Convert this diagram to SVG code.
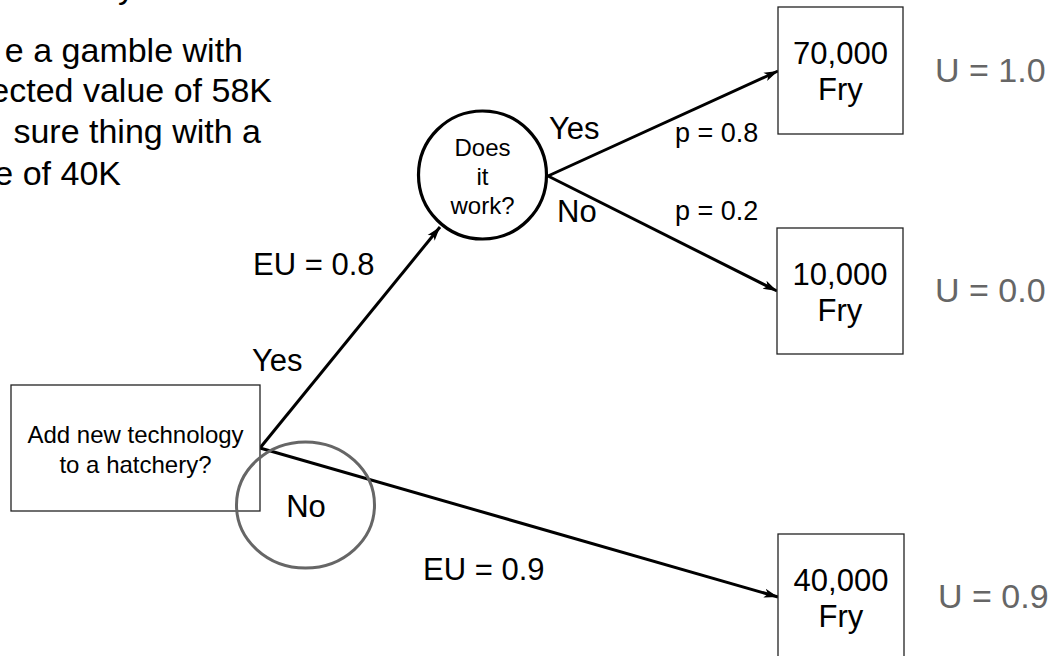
<svg xmlns="http://www.w3.org/2000/svg" width="1061" height="656" viewBox="0 0 1061 656">
  <defs>
    <marker id="arr" markerUnits="userSpaceOnUse" markerWidth="18" markerHeight="12" refX="14" refY="0" viewBox="0 -6 18 12" orient="auto">
      <path d="M0,-4.5 L14,0 L0,4.5 L3.5,0 Z" fill="#000"/>
    </marker>
    <style>
      text { font-family: "Liberation Sans", Arial, sans-serif; fill: #000; }
      .box { fill: #fff; stroke: #222; stroke-width: 1.3; }
      .conn { stroke: #000; stroke-width: 3; fill: none; }
      .big { font-size: 31px; }
      .mid { font-size: 24px; }
      .util { font-size: 34px; fill: #666; }
      .lbl { font-size: 31px; }
      .prob { font-size: 27px; }
      .note { font-size: 34px; }
    </style>
  </defs>
  <rect width="1061" height="656" fill="#fff"/>

  <g id="note">
    <text class="note" x="118" y="-2">y</text>
    <text class="note" x="243" y="62" text-anchor="end">e a gamble with</text>
    <text class="note" x="272" y="102" text-anchor="end">ected value of 58K</text>
    <text class="note" x="261" y="143" text-anchor="end">sure thing with a</text>
    <text class="note" x="121" y="185" text-anchor="end">e of 40K</text>
  </g>

  <g id="connectors">
    <line class="conn" x1="260" y1="448" x2="440" y2="227" marker-end="url(#arr)"/>
    <line class="conn" x1="260" y1="448" x2="778" y2="597" marker-end="url(#arr)"/>
    <line class="conn" x1="548" y1="176" x2="778" y2="71" marker-end="url(#arr)"/>
    <line class="conn" x1="548" y1="176" x2="777" y2="291" marker-end="url(#arr)"/>
  </g>

  <g id="root">
    <rect class="box" x="11" y="385" width="249" height="126"/>
    <text class="mid" x="135.5" y="443" text-anchor="middle">Add new technology</text>
    <text class="mid" x="135.5" y="473" text-anchor="middle">to a hatchery?</text>
  </g>

  <g id="no-choice">
    <ellipse cx="305.5" cy="505" rx="69" ry="63" fill="none" stroke="#666" stroke-width="3"/>
    <text class="lbl" x="306" y="517" text-anchor="middle">No</text>
  </g>

  <g id="chance">
    <circle cx="482.5" cy="175" r="64" fill="#fff" stroke="#000" stroke-width="3.2"/>
    <text class="mid" x="482.5" y="156" text-anchor="middle">Does</text>
    <text class="mid" x="482.5" y="185" text-anchor="middle">it</text>
    <text class="mid" x="482.5" y="214" text-anchor="middle">work?</text>
  </g>

  <g id="out-70000">
    <rect class="box" x="778" y="7" width="125" height="127"/>
    <text class="big" x="840.5" y="64" text-anchor="middle">70,000</text>
    <text class="big" x="840.5" y="100" text-anchor="middle">Fry</text>
    <text class="util" x="935" y="82">U = 1.0</text>
  </g>

  <g id="out-10000">
    <rect class="box" x="777" y="228" width="126" height="126"/>
    <text class="big" x="840" y="285" text-anchor="middle">10,000</text>
    <text class="big" x="840" y="321" text-anchor="middle">Fry</text>
    <text class="util" x="935" y="302">U = 0.0</text>
  </g>

  <g id="out-40000">
    <rect class="box" x="778" y="534" width="126" height="126"/>
    <text class="big" x="841" y="591" text-anchor="middle">40,000</text>
    <text class="big" x="841" y="627" text-anchor="middle">Fry</text>
    <text class="util" x="938" y="608">U = 0.9</text>
  </g>

  <g id="labels">
    <text class="lbl" x="252" y="371">Yes</text>
    <text class="lbl" x="253" y="275">EU = 0.8</text>
    <text class="lbl" x="423" y="580">EU = 0.9</text>
    <text class="lbl" x="549" y="139">Yes</text>
    <text class="lbl" x="557" y="222">No</text>
    <text class="prob" x="675" y="142">p = 0.8</text>
    <text class="prob" x="675" y="220">p = 0.2</text>
  </g>
</svg>
